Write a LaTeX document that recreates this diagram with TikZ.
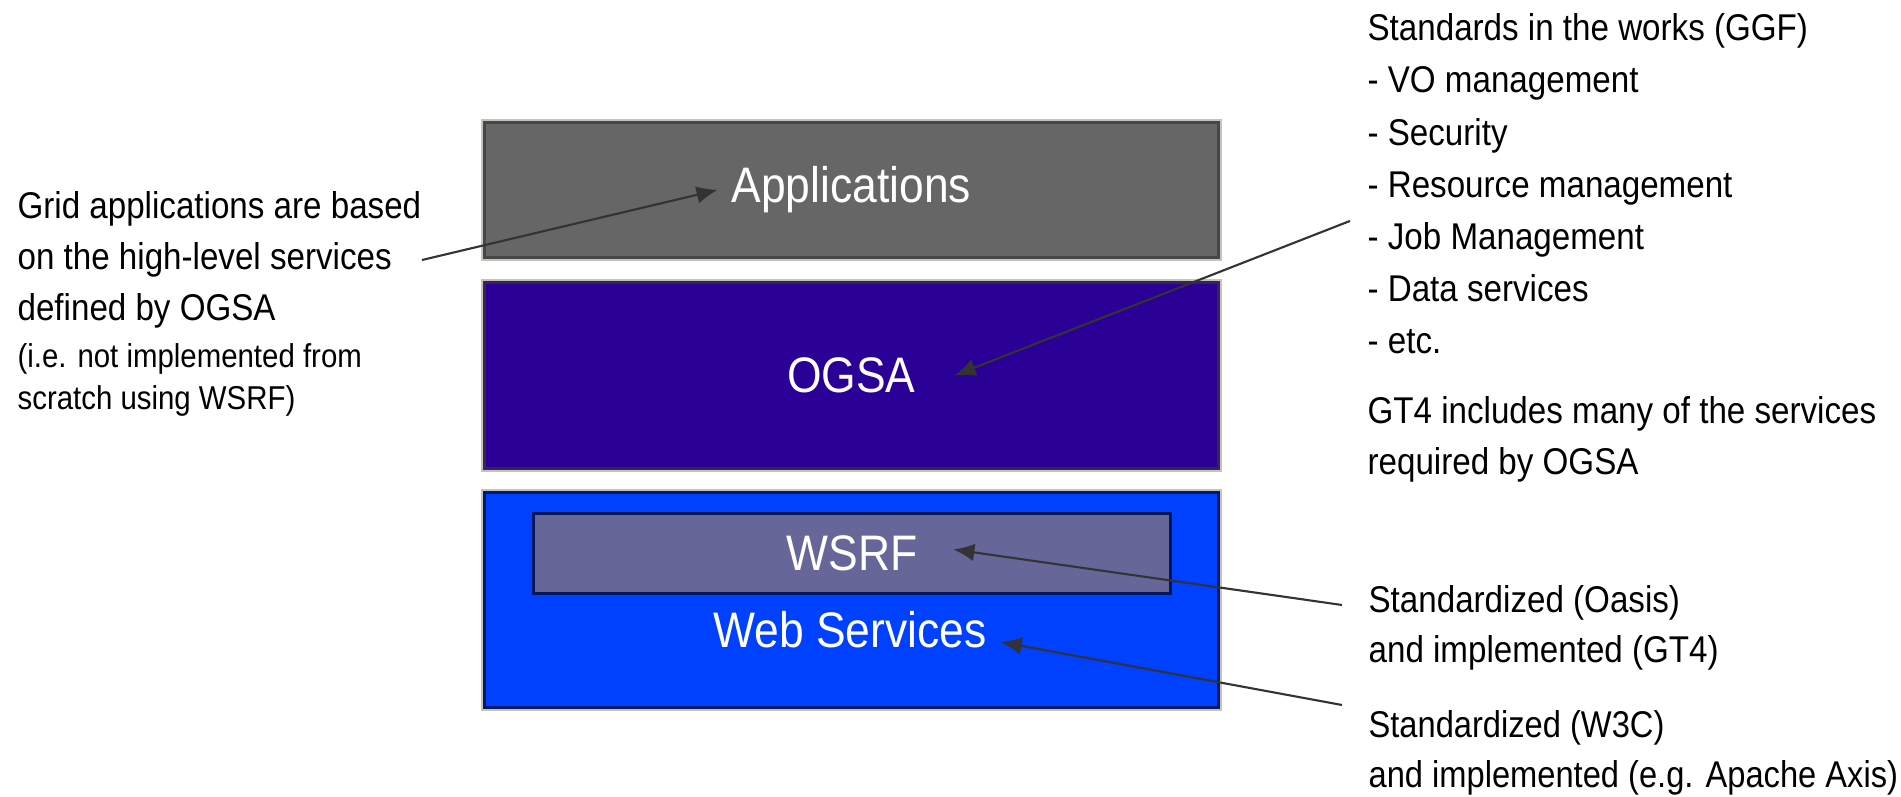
\documentclass[tikz,border=0pt]{standalone}
\usepackage{fontspec}
\setmainfont{Liberation Sans}
\usepackage{tikz}
\usetikzlibrary{arrows.meta}
\tikzset{>=latex}
\definecolor{appgray}{HTML}{666666}
\definecolor{ogsablue}{HTML}{2A0096}
\definecolor{wsblue}{HTML}{0040FF}
\definecolor{wsrfslate}{HTML}{666699}
\definecolor{framegray}{HTML}{C8C2B8}
\tikzset{
  sublayer/.style={line width=0.8pt, anchor=north west, inner sep=0pt},
  layer/.style={sublayer, preaction={draw=framegray, line width=2.2pt}},
  boxtext/.style={text=white, inner sep=0.15cm, xscale=0.89, font=\fontsize{14.2}{17}\selectfont},
  note/.style={anchor=north west, align=left, inner sep=0pt, xscale=0.89, font=\fontsize{10.6}{14.5}\selectfont},
  aside/.style={note, font=\fontsize{9.4}{12}\selectfont},
  pointer/.style={->, >={Latex[length=6pt,width=5pt]}, line width=0.6pt, black!80}
}

\begin{document}
\begin{tikzpicture}
                \useasboundingbox (0,0) rectangle (19.01,-7.97);

                % the layers
                \node[layer, fill=appgray, draw=black!72, minimum width=7.34cm, minimum height=1.35cm] (apps) at (4.83,-1.21) {};
                \node[layer, fill=ogsablue, draw=black!55!ogsablue!70!gray, minimum width=7.34cm, minimum height=1.86cm] (ogsa) at (4.83,-2.81) {};
                \node[layer, fill=wsblue, draw=black!60!wsblue, minimum width=7.34cm, minimum height=2.15cm] (websvc) at (4.83,-4.91) {};
                \node[sublayer, fill=wsrfslate, draw=black!65!wsblue, minimum width=6.37cm, minimum height=0.80cm] (wsrf) at (5.32,-5.12) {};

                % layer names
                \node[boxtext] (appslabel) at (apps.center) {Applications};
                \node[boxtext] (ogsalabel) at (ogsa.center) {OGSA};
                \node[boxtext] (wsrflabel) at (wsrf.center) {WSRF};
                \node[boxtext] (wslabel) at (8.50,-6.30) {Web Services};

                % notes on the left
                \node[note] (gridnote) at (0.17,-1.91) {Grid applications are based\\on the high-level services\\defined by OGSA};
                \node[aside] (gridaside) at (0.17,-3.43) {(i.e. not implemented from\\scratch using WSRF)};

                % notes on the right
                \node[note, font=\fontsize{10.6}{14.85}\selectfont] (stdnote) at (13.67,-0.13) {Standards in the works (GGF)\\- VO management\\- Security\\- Resource management\\- Job Management\\- Data services\\- etc.};
                \node[note] (gt4note) at (13.67,-3.96) {GT4 includes many of the services\\required by OGSA};
                \node[note, font=\fontsize{10.6}{14.2}\selectfont] (oasisnote) at (13.68,-5.85) {Standardized (Oasis)\\and implemented (GT4)};
                \node[note, xscale=0.985, font=\fontsize{10.6}{14.2}\selectfont] (w3cnote) at (13.68,-7.10) {Standardized (W3C)\\and implemented (e.g. Apache Axis)};

                % grid note to Applications
                \draw[pointer] (gridnote.east) -- (appslabel.west);
                % standards to OGSA
                \draw[pointer] ([xshift=-0.17cm,yshift=-0.37cm]stdnote.west) -- ([xshift=0.25cm]ogsalabel.east);
                % Oasis to WSRF
                \draw[pointer] ([xshift=-0.26cm,yshift=-0.2cm]oasisnote.north west) -- ([xshift=0.22cm,yshift=0.04cm]wsrflabel.east);
                % W3C to Web Services
                \draw[pointer] ([xshift=-0.26cm,yshift=0.05cm]w3cnote.north west) -- ([yshift=-0.12cm]wslabel.east);
\end{tikzpicture}
\end{document}
